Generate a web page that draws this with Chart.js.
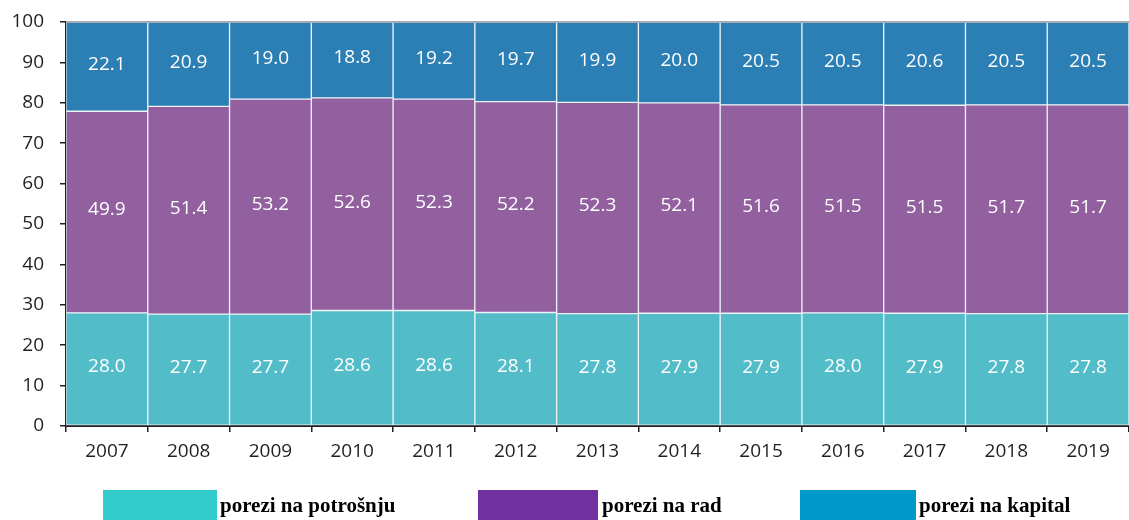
<!DOCTYPE html>
<html>
<head>
<meta charset="utf-8">
<script src="https://cdn.jsdelivr.net/npm/chart.js@4"></script>
<style>
  html, body { margin: 0; padding: 0; background: #fff; overflow: hidden; }
  #wrap { position: relative; width: 1129px; height: 520px; }
  #legend { position: absolute; left: 0; top: 0; width: 1129px; height: 520px; pointer-events: none; }
  .lg-box { position: absolute; top: 490px; height: 30px; }
  .lg-text { position: absolute; top: 490px; height: 30px; line-height: 30px;
    font-family: "Liberation Serif", "Times New Roman", serif; font-weight: bold; font-size: 21px; color: #000; white-space: nowrap; }
</style>
</head>
<body>
<div id="wrap">
  <canvas id="c"></canvas>
  <div id="legend"></div>
</div>
<script>
const years = ['2007','2008','2009','2010','2011','2012','2013','2014','2015','2016','2017','2018','2019'];
const porezi_potrosnja = [28.0, 27.7, 27.7, 28.6, 28.6, 28.1, 27.8, 27.9, 27.9, 28.0, 27.9, 27.8, 27.8];
const porezi_rad       = [49.9, 51.4, 53.2, 52.6, 52.3, 52.2, 52.3, 52.1, 51.6, 51.5, 51.5, 51.7, 51.7];
const porezi_kapital   = [22.1, 20.9, 19.0, 18.8, 19.2, 19.7, 19.9, 20.0, 20.5, 20.5, 20.6, 20.5, 20.5];
const seriesNames = ['porezi na potrošnju', 'porezi na rad', 'porezi na kapital'];
const barColors = ['#52BCC9', '#925F9F', '#2B7FB4'];
const legendColors = ['#33CCCC', '#7030A0', '#0099CC'];
const yTicks = [0, 10, 20, 30, 40, 50, 60, 70, 80, 90, 100];

// HTML legend
const legendLayout = [
  { box: [103, 114], text: 220 },
  { box: [478, 120], text: 602 },
  { box: [800, 116], text: 919 }
];
const lg = document.getElementById('legend');
seriesNames.forEach((name, i) => {
  const b = document.createElement('div');
  b.className = 'lg-box';
  b.style.left = legendLayout[i].box[0] + 'px';
  b.style.width = legendLayout[i].box[1] + 'px';
  b.style.background = legendColors[i];
  lg.appendChild(b);
  const t = document.createElement('div');
  t.className = 'lg-text';
  t.style.left = legendLayout[i].text + 'px';
  t.textContent = name;
  lg.appendChild(t);
});

const valueLabels = {
  id: 'valueLabels',
  afterDatasetsDraw(chart) {
    const ctx = chart.ctx;
    ctx.save();
    const yScale = chart.scales.y;
    const yTop = yScale.getPixelForValue(100);
    ctx.strokeStyle = '#a8acb0';
    ctx.lineWidth = 2;
    ctx.beginPath();
    ctx.moveTo(chart.chartArea.left, yTop);
    ctx.lineTo(chart.chartArea.right, yTop);
    ctx.stroke();

    ctx.fillStyle = '#ffffff';
    ctx.font = '19px "Open Sans", "Noto Sans", sans-serif';
    ctx.textAlign = 'center';
    ctx.textBaseline = 'middle';
    chart.data.datasets.forEach((ds, di) => {
      const meta = chart.getDatasetMeta(di);
      meta.data.forEach((el, i) => {
        const y = (el.y + el.base) / 2 - 2;
        ctx.fillText(ds.data[i].toFixed(1), el.x, y);
      });
    });
    ctx.restore();
  }
};

const datasetsData = [porezi_potrosnja, porezi_rad, porezi_kapital];
new Chart(document.getElementById('c'), {
  type: 'bar',
  data: {
    labels: years,
    datasets: datasetsData.map((d, i) => ({
      label: seriesNames[i],
      data: d,
      backgroundColor: barColors[i],
      borderColor: 'rgba(236,242,246,0.9)',
      borderWidth: 1,
      borderSkipped: false,
      barPercentage: 1,
      categoryPercentage: 1
    }))
  },
  options: {
    responsive: true,
    maintainAspectRatio: false,
    animation: false,
    devicePixelRatio: 1,
    layout: { padding: { top: 22, left: 0, right: 0, bottom: 0 } },
    plugins: { legend: { display: false }, tooltip: { enabled: false } },
    scales: {
      x: {
        stacked: true,
        offset: true,
        grid: { offset: true, drawOnChartArea: false, drawTicks: true, tickLength: 6, tickColor: '#231f20', lineWidth: 1.5 },
        border: { display: true, color: '#231f20', width: 2 },
        ticks: { color: '#231f20', padding: 8, font: { family: '"Open Sans", "Noto Sans", sans-serif', size: 19 } },
        afterFit(scale) { scale.height = 94; scale.paddingLeft = 0; scale.paddingRight = 0; }
      },
      y: {
        stacked: true,
        min: 0,
        max: 100,
        afterBuildTicks(scale) { scale.ticks = yTicks.map(v => ({ value: v })); },
        grid: { drawOnChartArea: false, drawTicks: true, tickLength: 6, tickColor: '#231f20', lineWidth: 1.5 },
        border: { display: true, color: '#231f20', width: 2 },
        ticks: { color: '#231f20', padding: 16, font: { family: '"Open Sans", "Noto Sans", sans-serif', size: 19 } },
        afterFit(scale) { scale.width = 66; scale.paddingTop = 0; scale.paddingBottom = 0; }
      }
    }
  },
  plugins: [valueLabels]
});
</script>
</body>
</html>
